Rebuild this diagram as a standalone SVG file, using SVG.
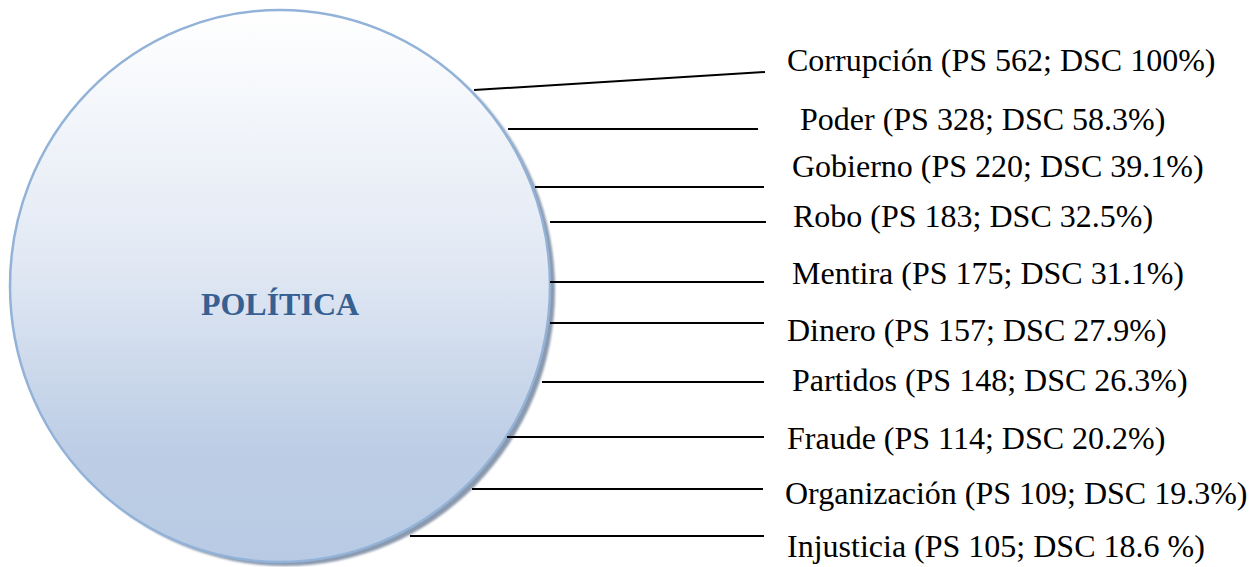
<svg xmlns="http://www.w3.org/2000/svg" width="1253" height="567" viewBox="0 0 1253 567">
<defs>
<linearGradient id="fill" x1="0" y1="0" x2="0" y2="1">
<stop offset="0" stop-color="#ffffff"/>
<stop offset="0.45" stop-color="#e2e9f4"/>
<stop offset="0.8" stop-color="#bccde5"/>
<stop offset="1" stop-color="#b9cbe4"/>
</linearGradient>
<filter id="blur" x="-5%" y="-5%" width="110%" height="110%">
<feGaussianBlur stdDeviation="1"/>
</filter>
</defs>
<style>
.lbl{font-family:"Liberation Serif","Times New Roman",serif;font-size:32px;fill:#000}
.title{font-family:"Liberation Serif","Times New Roman",serif;font-size:32px;font-weight:bold;fill:#366092}
.conn line{stroke:#000;stroke-width:2}
</style>
<rect width="1253" height="567" fill="#fff"/>
<g id="politica">
<ellipse cx="285" cy="290" rx="270" ry="276" fill="#8a99ad" filter="url(#blur)"/>
<ellipse cx="280" cy="286" rx="270" ry="276" fill="url(#fill)" stroke="#93b2d8" stroke-width="2.5"/>
<text class="title" x="280" y="315" text-anchor="middle">POLÍTICA</text>
</g>
<g class="conn" id="connectors">
<line x1="474" y1="90" x2="765" y2="72"/>
<line x1="508" y1="129" x2="758" y2="129"/>
<line x1="535" y1="187" x2="764" y2="187"/>
<line x1="550" y1="222" x2="766" y2="222"/>
<line x1="550" y1="282" x2="764" y2="282"/>
<line x1="550" y1="323" x2="764" y2="323"/>
<line x1="542" y1="382" x2="764" y2="382"/>
<line x1="507" y1="437" x2="764" y2="437"/>
<line x1="472" y1="489" x2="763" y2="489"/>
<line x1="410" y1="536" x2="764" y2="536"/>
</g>
<g id="corrupcion"><text class="lbl" x="787" y="71">Corrupción (PS 562; DSC 100%)</text></g>
<g id="poder"><text class="lbl" x="800" y="130">Poder (PS 328; DSC 58.3%)</text></g>
<g id="gobierno"><text class="lbl" x="792" y="177">Gobierno (PS 220; DSC 39.1%)</text></g>
<g id="robo"><text class="lbl" x="793" y="227">Robo (PS 183; DSC 32.5%)</text></g>
<g id="mentira"><text class="lbl" x="792" y="284">Mentira (PS 175; DSC 31.1%)</text></g>
<g id="dinero"><text class="lbl" x="787" y="341">Dinero (PS 157; DSC 27.9%)</text></g>
<g id="partidos"><text class="lbl" x="792" y="391">Partidos (PS 148; DSC 26.3%)</text></g>
<g id="fraude"><text class="lbl" x="787" y="449">Fraude (PS 114; DSC 20.2%)</text></g>
<g id="organizacion"><text class="lbl" x="785" y="504">Organización (PS 109; DSC 19.3%)</text></g>
<g id="injusticia"><text class="lbl" x="787" y="557">Injusticia (PS 105; DSC 18.6 %)</text></g>
</svg>
